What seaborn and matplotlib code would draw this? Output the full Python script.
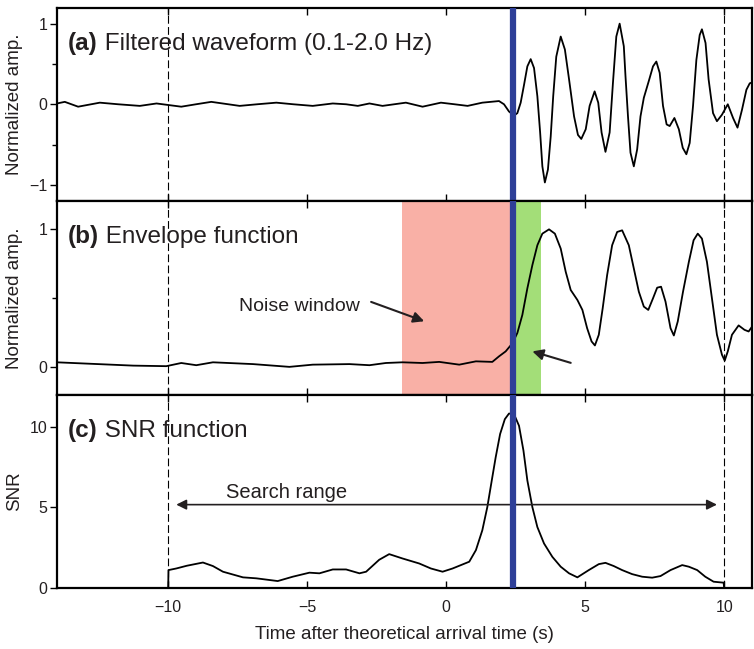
import matplotlib
matplotlib.use("Agg")
import matplotlib.pyplot as plt
import seaborn as sns
from matplotlib.ticker import MultipleLocator

# ---------------- data ----------------
wave_t = [-14.0, -13.72, -13.24, -12.46, -11.8, -11.02, -10.42, -9.53, -9.0, -8.45,
          -7.43, -6.8, -6.11, -5.5, -4.80, -4.08, -3.6, -3.18, -2.76, -2.29,
          -1.45, -0.85, -0.19, 0.3, 0.77, 1.30, 1.90, 2.08, 2.26, 2.44,
          2.56, 2.68, 2.80, 2.92, 3.04, 3.16, 3.28, 3.38, 3.46, 3.55,
          3.66, 3.76, 3.85, 3.96, 4.12, 4.27, 4.42, 4.60, 4.74, 4.86,
          5.02, 5.16, 5.34, 5.47, 5.59, 5.73, 5.88, 6.00, 6.12, 6.24,
          6.39, 6.45, 6.54, 6.63, 6.75, 6.87, 6.99, 7.11, 7.29, 7.44,
          7.56, 7.68, 7.80, 7.93, 8.04, 8.21, 8.37, 8.51, 8.64, 8.76,
          8.88, 9.00, 9.12, 9.20, 9.33, 9.44, 9.60, 9.74, 9.92, 10.13,
          10.32, 10.48, 10.64, 10.80, 10.92, 11.0]
wave_amp = [0.01, 0.03, -0.03, 0.02, 0.0, -0.02, 0.01, -0.03, 0.0, 0.03,
            -0.02, 0.0, 0.02, 0.0, -0.02, 0.01, 0.0, -0.02, 0.01, -0.02,
            0.02, -0.03, 0.02, 0.0, -0.02, 0.02, 0.04, 0.0, -0.09, -0.14,
            -0.11, 0.02, 0.24, 0.47, 0.56, 0.45, 0.10, -0.35, -0.77, -0.97,
            -0.81, -0.40, 0.10, 0.59, 0.84, 0.68, 0.31, -0.15, -0.38, -0.43,
            -0.31, -0.02, 0.16, 0.02, -0.35, -0.59, -0.35, 0.27, 0.84, 1.00,
            0.72, 0.35, -0.15, -0.60, -0.77, -0.56, -0.15, 0.08, 0.29, 0.47,
            0.53, 0.39, -0.02, -0.25, -0.27, -0.17, -0.31, -0.54, -0.62, -0.48,
            -0.02, 0.55, 0.86, 0.93, 0.76, 0.31, -0.11, -0.21, -0.13, 0.00,
            -0.17, -0.29, -0.07, 0.18, 0.26, 0.27]

env_t = [-14.01, -11.26, -10.07, -9.53, -8.99, -8.39, -6.95, -5.64, -4.80, -3.48,
         -2.76, -2.17, -1.57, -0.85, -0.25, 0.47, 1.07, 1.66, 1.90, 2.14,
         2.38, 2.56, 2.74, 2.92, 3.10, 3.28, 3.46, 3.70, 3.91, 4.12,
         4.30, 4.48, 4.72, 4.90, 5.07, 5.23, 5.35, 5.49, 5.63, 5.79,
         5.97, 6.15, 6.33, 6.57, 6.75, 6.93, 7.11, 7.27, 7.44, 7.59,
         7.73, 7.89, 8.07, 8.19, 8.33, 8.52, 8.73, 8.90, 9.05, 9.20,
         9.38, 9.56, 9.74, 9.92, 10.02, 10.13, 10.28, 10.52, 10.73, 10.88,
         11.0]
env_amp = [0.033, 0.009, 0.005, 0.028, 0.012, 0.033, 0.02, 0.0, 0.016, 0.02,
           0.012, 0.028, 0.033, 0.028, 0.036, 0.016, 0.04, 0.036, 0.076, 0.112,
           0.17, 0.245, 0.376, 0.568, 0.736, 0.88, 0.964, 0.995, 0.964, 0.856,
           0.688, 0.556, 0.484, 0.412, 0.28, 0.184, 0.155, 0.232, 0.424, 0.664,
           0.88, 0.976, 0.988, 0.88, 0.712, 0.544, 0.436, 0.412, 0.496, 0.573,
           0.58, 0.472, 0.28, 0.227, 0.328, 0.544, 0.76, 0.916, 0.964, 0.928,
           0.76, 0.496, 0.232, 0.088, 0.045, 0.112, 0.232, 0.30, 0.268, 0.256,
           0.29]

snr_t = [-10.0, -9.99, -9.71, -9.33, -8.75, -8.39, -8.03, -7.31, -6.83, -6.06,
         -5.52, -4.92, -4.56, -4.08, -3.60, -3.12, -2.88, -2.41, -2.05, -1.57,
         -0.97, -0.55, -0.13, 0.23, 0.53, 0.83, 1.07, 1.30, 1.48, 1.64,
         1.78, 1.94, 2.11, 2.26, 2.44, 2.62, 2.78, 2.92, 3.10, 3.28,
         3.52, 3.82, 4.12, 4.42, 4.72, 5.13, 5.49, 5.73, 6.03, 6.33,
         6.69, 7.05, 7.41, 7.71, 8.07, 8.49, 8.73, 9.03, 9.32, 9.62,
         9.98, 10.0]
snr_val = [0.0, 1.11, 1.21, 1.38, 1.58, 1.36, 1.01, 0.66, 0.60, 0.43,
           0.70, 0.95, 0.91, 1.15, 1.15, 0.91, 1.01, 1.75, 2.10, 1.83,
           1.52, 1.21, 1.01, 1.21, 1.42, 1.63, 2.35, 3.58, 5.02, 6.67,
           8.10, 9.55, 10.47, 10.82, 10.78, 10.06, 8.52, 6.67, 5.02, 3.78,
           2.76, 1.93, 1.32, 0.91, 0.66, 1.11, 1.48, 1.56, 1.36, 1.11,
           0.86, 0.70, 0.64, 0.74, 1.11, 1.42, 1.32, 1.11, 0.70, 0.39,
           0.33, 0.0]

pick_time = 2.4
noise_window = [-1.6, 2.4]
signal_window = [2.4, 3.4]
search_range = [-10, 10]
xticks = [-10, -5, 0, 5, 10]
panel_tags = ["(a)", "(b)", "(c)"]
panel_titles = [" Filtered waveform (0.1-2.0 Hz)", " Envelope function", " SNR function"]
ylabels = ["Normalized amp.", "Normalized amp.", "SNR"]
xlabel = "Time after theoretical arrival time (s)"

# ---------------- style ----------------
sns.set_theme(style="ticks")
plt.rcParams['font.family'] = ['Liberation Sans', 'DejaVu Sans']
plt.rcParams['axes.unicode_minus'] = True

BLUE = "#2E3F98"
RED = "#F9B0A6"
GREEN = "#A3DE78"
INK = "#231F20"

fig, axes = plt.subplots(3, 1, figsize=(7.54, 6.49), dpi=100, sharex=True)
fig.subplots_adjust(left=0.0756, right=0.9973, top=0.9884, bottom=0.094, hspace=0)

series = [(wave_t, wave_amp), (env_t, env_amp), (snr_t, snr_val)]
ylims = [(-1.2, 1.2), (-0.2, 1.2), (0, 12)]
yticks = [[-1, 0, 1], [0, 1], [0, 5, 10]]
yminor = [0.5, 0.5, None]

for i, ax in enumerate(axes):
    x, y = series[i]
    sns.lineplot(x=x, y=y, ax=ax, color="black", lw=1.3, estimator=None, sort=False, zorder=3)
    ax.set_xlim(-14, 11)
    ax.set_ylim(*ylims[i])
    ax.set_xticks(xticks)
    ax.set_yticks(yticks[i])
    if yminor[i]:
        ax.yaxis.set_minor_locator(MultipleLocator(yminor[i]))
    for s in ax.spines.values():
        s.set_linewidth(1.6)
        s.set_color("black")
        s.set_visible(True)
    ax.tick_params(axis='x', which='both', direction='in', top=True, bottom=True,
                   length=5, width=1.0, color="black", labelsize=11.5, pad=8.5,
                   labelcolor=INK)
    ax.tick_params(axis='y', which='major', direction='out', left=True, right=False,
                   length=5, width=1.0, color="black", labelsize=11.5, pad=2,
                   labelcolor=INK)
    ax.tick_params(axis='y', which='minor', direction='out', left=True, right=False,
                   length=3.5, width=1.0, color="black")
    for xv in search_range:
        ax.axvline(xv, color="black", lw=0.8, ls=(0, (7, 3)), zorder=2)
    ax.axvline(pick_time, color=BLUE, lw=4.5, zorder=5)
    ax.set_ylabel(ylabels[i], fontsize=13.5, labelpad=4, color=INK)
    ax.set_xlabel("")
    tag = ax.text(0.0155, 0.815, panel_tags[i], transform=ax.transAxes, fontsize=17.5,
                  fontweight="bold", va="center", ha="left", color=INK, zorder=6)
    ax.annotate(panel_titles[i], xy=(1, 0), xycoords=tag, va="bottom", ha="left",
                fontsize=17.5, color=INK, zorder=6)

# panel (b) windows and annotations
axb = axes[1]
axb.axvspan(noise_window[0], noise_window[1], color=RED, lw=0, zorder=1)
axb.axvspan(signal_window[0], signal_window[1], color=GREEN, lw=0, zorder=1)
axb.text(-5.28, 0.436, "Noise window", fontsize=14, ha="center", va="center", color=INK)
axb.annotate("", xy=(-0.79, 0.33), xytext=(-2.70, 0.47),
             arrowprops=dict(arrowstyle="-|>", color=INK, lw=1.5,
                             mutation_scale=16, shrinkA=0, shrinkB=0), zorder=6)
axb.annotate("", xy=(3.10, 0.112), xytext=(4.48, 0.029),
             arrowprops=dict(arrowstyle="-|>", color=INK, lw=1.5,
                             mutation_scale=16, shrinkA=0, shrinkB=0), zorder=6)

# panel (c) search range
axc = axes[2]
axc.annotate("", xy=(-9.71, 5.17), xytext=(9.74, 5.17),
             arrowprops=dict(arrowstyle="<|-|>", color=INK, lw=1.2,
                             mutation_scale=15, shrinkA=0, shrinkB=0), zorder=4)
axc.text(-5.73, 5.95, "Search range", fontsize=14.5, ha="center", va="center", color=INK)
axc.set_xlabel(xlabel, fontsize=13.5, labelpad=8, color=INK)

fig.align_ylabels(axes)
fig.savefig("out.png", dpi=100)
